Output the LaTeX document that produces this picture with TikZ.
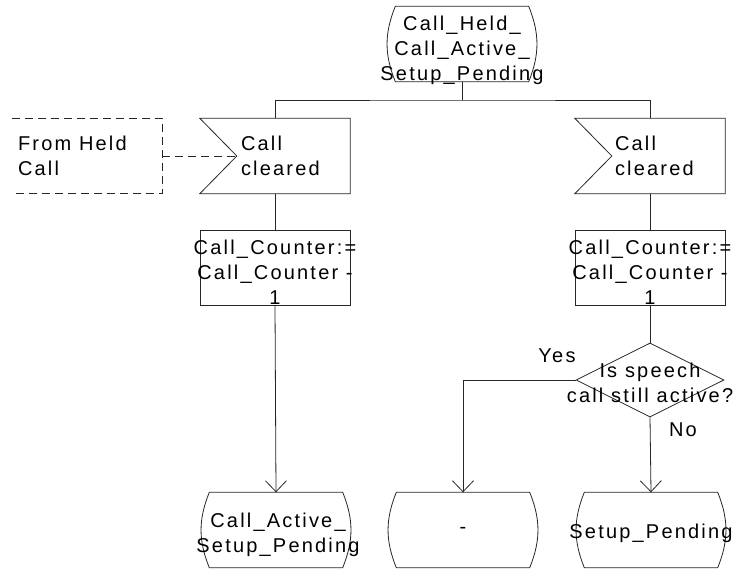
\documentclass[tikz,border=0pt]{standalone}
\usepackage{fontspec}
\setmainfont{Liberation Sans}[LetterSpace=11]
\usepackage{tikz}
\usetikzlibrary{arrows.meta, positioning, calc, shapes.geometric}
\tikzset{
  line/.style={draw=black!85, line width=0.8pt},
  arrow/.style={line, -{Straight Barb[length=11pt, width=21pt, line width=0.8pt]}},
  dline/.style={line, dash pattern=on 8pt off 5pt},
  statebox/.style={rectangle, minimum width=133pt, minimum height=75pt, inner sep=0pt},
  inbox/.style={rectangle, draw=none, minimum width=150pt, minimum height=75pt, inner sep=0pt},
  taskbox/.style={rectangle, line, minimum width=150pt, minimum height=75pt, inner sep=0pt},
  decision/.style={diamond, line, minimum width=148pt, minimum height=74pt, inner sep=0pt},
  txt/.style={inner sep=0pt, align=center, text=black},
}

\begin{document}
\begin{tikzpicture}[x=1pt, y=-1pt,
  every node/.style={font=\fontsize{20}{25}\selectfont},
]
  \useasboundingbox (0,0) rectangle (735,568);

  % start state
  \node[statebox] (top) at (462,44) {};
  \draw[line] (top.north west) -- (top.north east) to[bend left=22] (top.south east)
    -- (top.south west) to[bend left=22] (top.north west);
  \node[txt] (toptxt) at (462,50) {Call\_Held\_\\Call\_Active\_\\Setup\_Pending};

  % signal inputs
  \node[inbox] (in1) at (275,156) {};
  \coordinate (in1notch) at ($(in1.west)+(37,0)$);
  \draw[line] (in1.north west) -- (in1.north east) -- (in1.south east)
    -- (in1.south west) -- (in1notch) -- cycle;
  \node[txt, anchor=west, align=left] (in1txt) at ([xshift=41pt]in1.west) {Call\\cleared};

  \node[inbox] (in2) at (650,156) {};
  \coordinate (in2notch) at ($(in2.west)+(37,0)$);
  \draw[line] (in2.north west) -- (in2.north east) -- (in2.south east)
    -- (in2.south west) -- (in2notch) -- cycle;
  \node[txt, anchor=west, align=left] (in2txt) at ([xshift=40pt]in2.west) {Call\\cleared};

  % connector from held call
  \node[inbox, minimum width=150pt] (held) at (87,156) {};
  \draw[dline] (held.north west) -- (held.north east) -- (held.south east) -- (held.south west);
  \node[txt, anchor=west, align=left] (heldtxt) at ([xshift=6pt]held.west) {From Held\\Call};
  \draw[dline] (held.east) -- (in1notch);

  % tasks
  \node[taskbox] (t1) at (275,268) {};
  \node[txt] (t1txt) at (275,272) {Call\_Counter:=\\Call\_Counter -\\1};
  \node[taskbox] (t2) at (650,268) {};
  \node[txt] (t2txt) at (650,272) {Call\_Counter:=\\Call\_Counter -\\1};

  % decision
  \node[decision] (dia) at (650,380) {};
  \node[txt] (diatxt) at (650,383) {Is speech\\call still active?};
  \node[txt] (yes) at (557,356) {Yes};
  \node[txt] (no) at (683,430) {No};

  % next states
  \node[statebox] (st1) at (276,530) {};
  \draw[line] (st1.north west) -- (st1.north east) to[bend left=22] (st1.south east)
    -- (st1.south west) to[bend left=22] (st1.north west);
  \node[txt] (st1txt) at (278,535) {Call\_Active\_\\Setup\_Pending};

  \node[statebox] (st2) at (463,530) {};
  \draw[line] (st2.north west) -- (st2.north east) to[bend left=22] (st2.south east)
    -- (st2.south west) to[bend left=22] (st2.north west);
  \node[txt] (st2txt) at (463,530) {-};

  \node[statebox] (st3) at (651,530) {};
  \draw[line] (st3.north west) -- (st3.north east) to[bend left=22] (st3.south east)
    -- (st3.south west) to[bend left=22] (st3.north west);
  \node[txt] (st3txt) at (651,533) {Setup\_Pending};

  % flow lines
  \coordinate (fork) at (462,100);
  \draw[line] (top.south) -- (fork);
  \draw[line] (in1.north) |- (fork) -| (in2.north);
  \draw[line] (in1.south) -- (t1.north);
  \draw[line] (in2.south) -- (t2.north);
  \draw[line] (t2.south) -- (dia.north);
  \draw[arrow] (t1.south) -- (st1.north);
  \draw[arrow] (dia.west) -| (st2.north);
  \draw[arrow] (dia.south) -- (st3.north);
\end{tikzpicture}
\end{document}
